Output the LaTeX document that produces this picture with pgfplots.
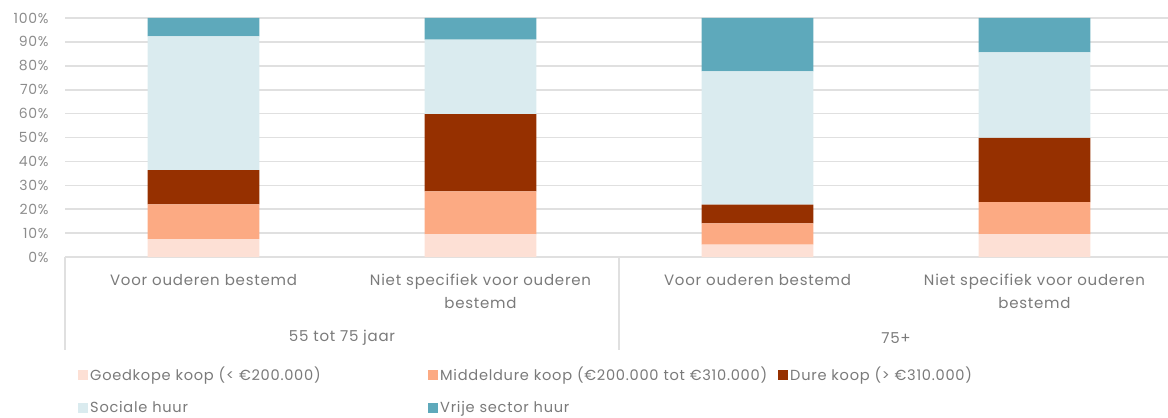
\documentclass[border=0pt]{standalone}
\usepackage{fontspec}
\setmainfont{Poppins}[LetterSpace=5]
\usepackage{pgfplots}
\pgfplotsset{compat=1.18}
\usetikzlibrary{calc}
\definecolor{goedkoop}{HTML}{FDE0D5}
\definecolor{middel}{HTML}{FCAA83}
\definecolor{duur}{HTML}{963000}
\definecolor{sociaal}{HTML}{DAEBEF}
\definecolor{vrij}{HTML}{5EA9BB}
\definecolor{gridgray}{HTML}{E0E0E0}
\definecolor{labelgray}{HTML}{7A7A7A}
\definecolor{tickgray}{HTML}{8C8C8C}

\begin{document}
\begin{tikzpicture}
\begin{axis}[
    scale only axis,
    width=1108pt, height=239pt,
    ybar stacked,
    bar width=0.404,
    xmin=-0.5, xmax=3.5,
    ymin=0, ymax=100,
    clip=false,
    xtick={0,1,2,3},
    xticklabels={Voor ouderen bestemd, {Niet specifiek voor ouderen\\bestemd}, Voor ouderen bestemd, {Niet specifiek voor ouderen\\bestemd}},
    x tick label style={font=\fontsize{15}{22}\selectfont, text=labelgray, align=center, text width=260pt, anchor=north, yshift=-14pt},
    ytick={0,10,...,100},
    yticklabel={\pgfmathprintnumber{\tick}\%},
    y tick label style={font=\fontsize{14}{14}\selectfont, text=tickgray, xshift=-13pt},
    /pgf/number format/assume math mode=true,
    axis line style={draw=none},
    tick style={draw=none},
    ymajorgrids,
    grid style={gridgray, line width=1.6pt},
    legend columns=3,
    legend cell align=left,
    legend image code/.code={\fill[#1] (0pt,-5pt) rectangle (10pt,5pt);},
    legend style={at={(rel axis cs:0,0)}, anchor=north west, xshift=10pt, yshift=-106pt,
        draw=none, fill=none, font=\fontsize{14.6}{17}\selectfont, text=labelgray,
        /tikz/row sep=15pt, nodes={text width=336pt, align=left}},
]
\addplot[fill=goedkoop, draw=none] coordinates {(0,7.5) (1,9.5) (2,5.2) (3,9.5)};
\addplot[fill=middel, draw=none] coordinates {(0,14.5) (1,18.0) (2,8.9) (3,13.5)};
\addplot[fill=duur, draw=none] coordinates {(0,14.4) (1,32.3) (2,7.8) (3,26.8)};
\addplot[fill=sociaal, draw=none] coordinates {(0,55.9) (1,31.2) (2,55.8) (3,35.8)};
\addplot[fill=vrij, draw=none] coordinates {(0,7.7) (1,9.0) (2,22.3) (3,14.4)};
\legend{Goedkope koop (< €200.000), Middeldure koop (€200.000 tot €310.000), Dure koop (> €310.000), Sociale huur, Vrije sector huur}
\draw[gridgray, line width=1.3pt] (axis cs:-0.5,0) -- ++(0pt,-93pt);
\draw[gridgray, line width=1.3pt] (axis cs:1.5,0) -- ++(0pt,-93pt);
\node[font=\fontsize{15}{17}\selectfont, text=labelgray] at (axis cs:0.5,0) [yshift=-81pt] {55 tot 75 jaar};
\node[font=\fontsize{15}{17}\selectfont, text=labelgray] at (axis cs:2.5,0) [yshift=-81pt] {75+};
\end{axis}
\pgfresetboundingbox
\useasboundingbox ($(current axis.south west)+(-65pt,-160pt)$) rectangle ($(current axis.north east)+(-5pt,18pt)$);
\end{tikzpicture}
\end{document}
